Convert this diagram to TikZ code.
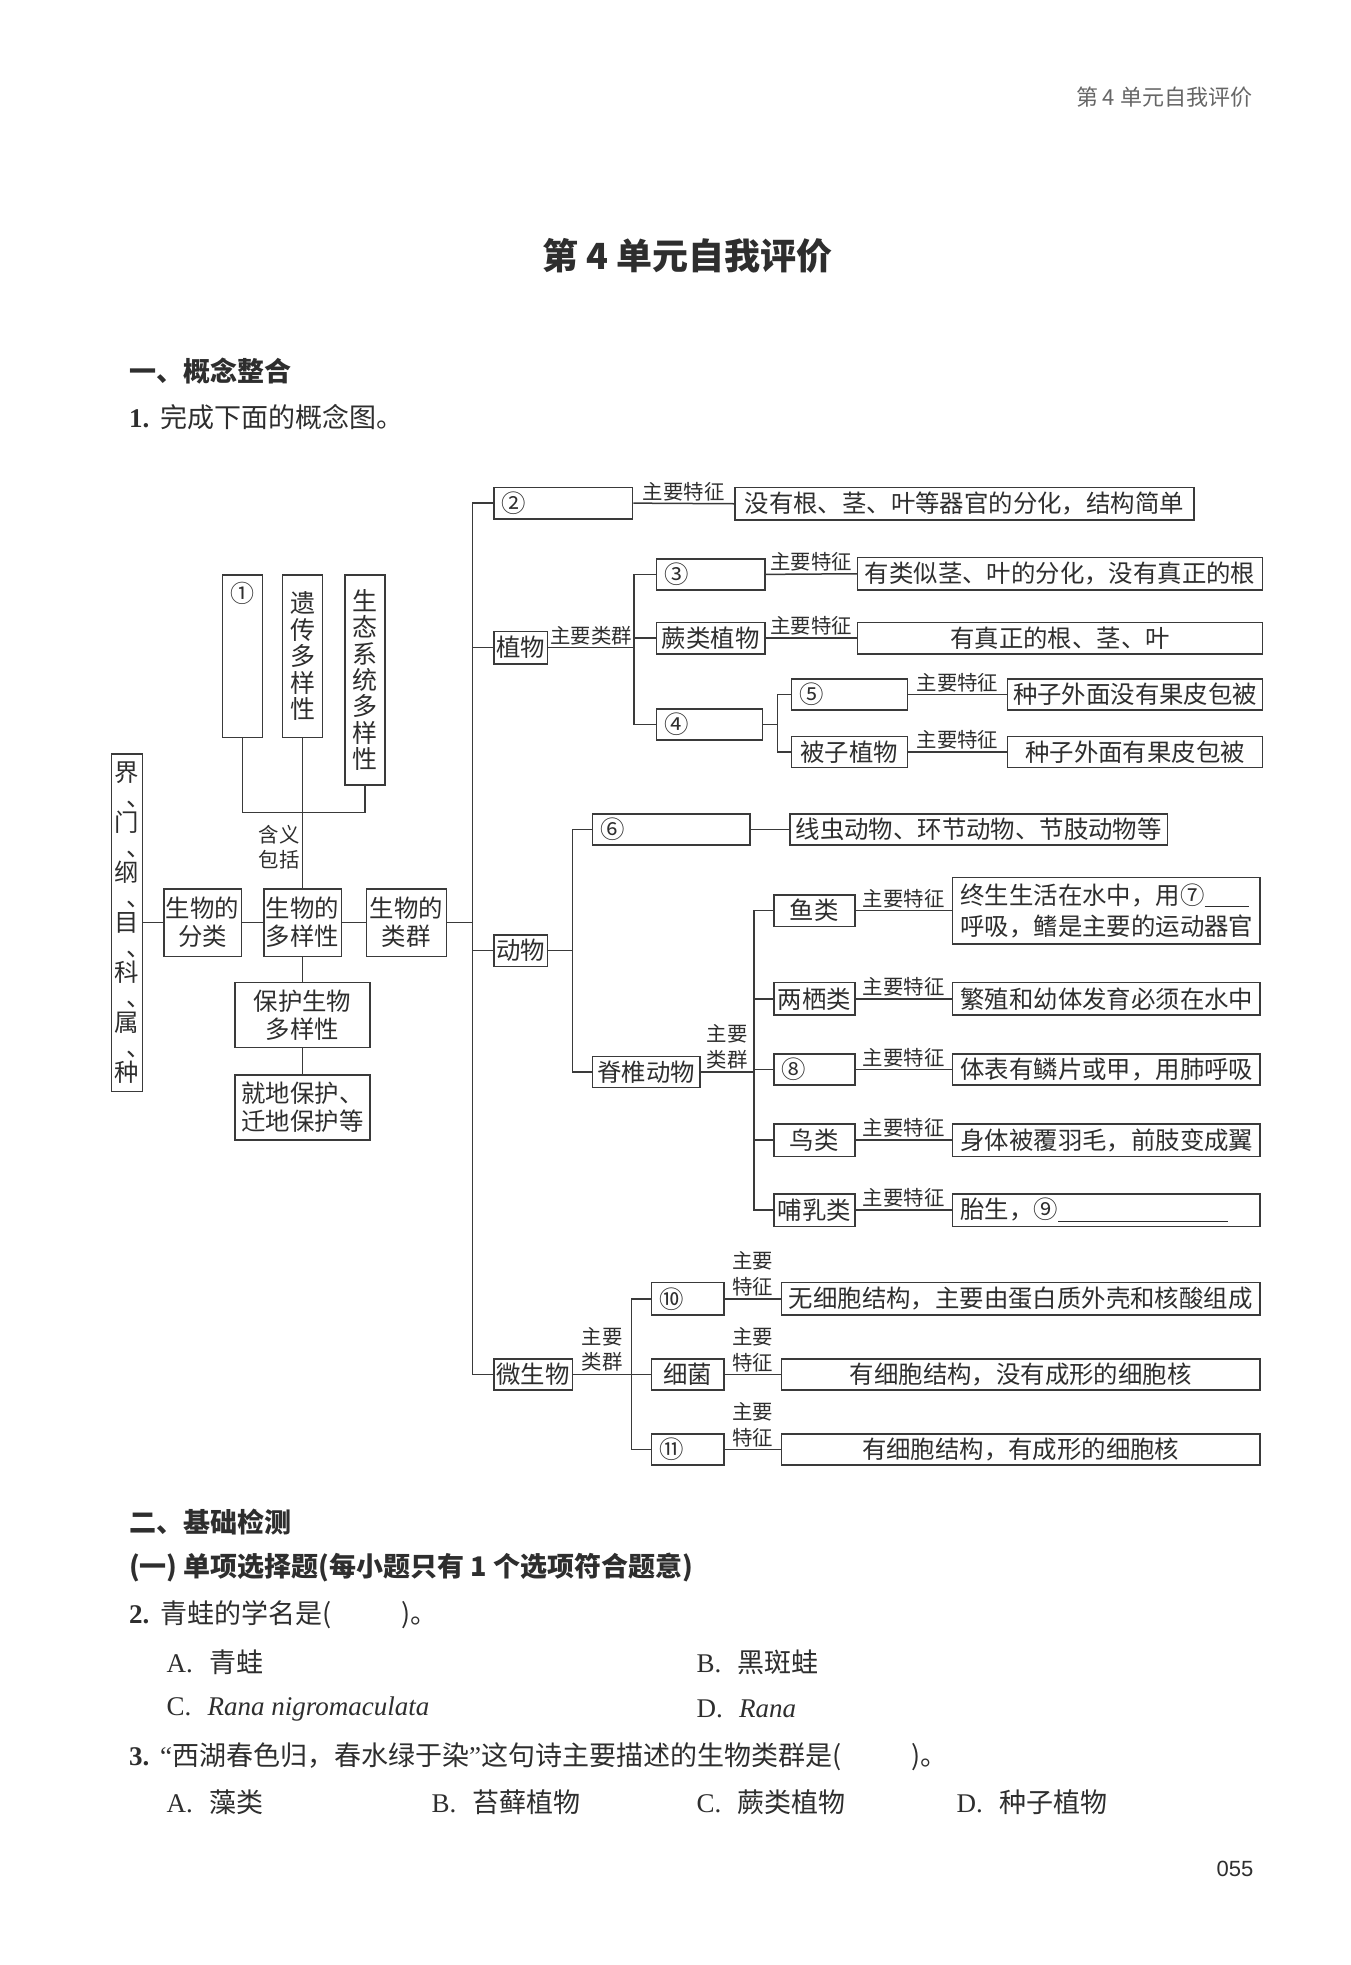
\documentclass[tikz,border=0pt]{standalone}
\usepackage{fontspec}
\setmainfont{Liberation Serif}
\newfontfamily\cjk{Noto Sans CJK SC}
\newfontfamily\lsans{Liberation Sans}
\usetikzlibrary{calc}
\definecolor{lc}{HTML}{3A3A3A}
\definecolor{tc}{HTML}{2E2E2E}
\definecolor{hc}{HTML}{666666}
\newcommand\vcm{\makebox[1em][l]{\hspace{0.5em}、}}
\newcommand\mybox[7][]{%
 \pgfmathsetmacro\mybw{(#5-#3)*0.625}%
 \pgfmathsetmacro\mybh{(#6-#4)*0.625}%
 \pgfmathsetmacro\mytw{(#5-#3)*0.625-8}%
 \node[box, minimum width=\mybw pt, minimum height=\mybh pt, #1] (#2) at ({(#3+#5)/2},{(#4+#6)/2}) {#7};}
\tikzset{
 box/.style={draw=lc, line width=0.75pt, inner xsep=1pt, inner ysep=0pt, align=center, text=tc, font=\cjk\fontsize{12.2}{14}\selectfont},
 lal/.style={text width=\mytw pt, inner xsep=4pt, align=left},
 vtx/.style={font=\cjk\fontsize{12.5}{13.2}\selectfont},
 lab/.style={font=\cjk\fontsize{10.2}{12.8}\selectfont, text=tc, inner sep=1pt, align=center},
 ln/.style={draw=lc, line width=0.75pt},
 txt/.style={anchor=west, inner sep=0pt, text=tc, font=\cjk\fontsize{13.5}{16}\selectfont},
 hd/.style={anchor=west, inner sep=0pt, text=tc, font=\cjk\bfseries\fontsize{13.5}{16}\selectfont},
}
\begin{document}
\begin{tikzpicture}[x=0.625pt, y=-0.625pt]
\useasboundingbox (0,0) rectangle (1080,1572);
\fill[white] (0,0) rectangle (1080,1572);

% header and title
\node[anchor=east, inner sep=0pt, text=hc, font=\cjk\fontsize{11}{13}\selectfont] (hdr) at (1002,78) {第 4 单元自我评价};
\node[inner sep=0pt, text=tc, font=\cjk\bfseries\fontsize{18}{20}\selectfont] (ttl) at (550,205) {第 4 单元自我评价};
\node[hd] (s1) at (103,297) {一、概念整合};
\node[txt] (q1) at (103,334) {{\rmfamily\bfseries 1.}\hspace{0.4em}完成下面的概念图。};

% ---------- left part ----------
\mybox[vtx, font=\cjk\fontsize{12.2}{12.5}\selectfont]{jie}{89}{603}{114}{873}{界\\\vcm\\门\\\vcm\\纲\\\vcm\\目\\\vcm\\科\\\vcm\\属\\\vcm\\种}
\mybox{fl}{131}{711}{193}{765}{生物的\\分类}
\mybox{dy}{211}{711}{273}{765}{生物的\\多样性}
\mybox{lq}{293}{711}{357}{765}{生物的\\类群}
\mybox{b1}{178}{460}{210}{590}{}
\node[inner sep=0pt, text=tc, font=\cjk\fontsize{12}{14}\selectfont] (c1) at ($(b1.north)+(0,15)$) {①};
\mybox[vtx]{b2}{226}{460}{258}{590}{遗\\传\\多\\样\\性}
\mybox[vtx]{b3}{276}{460}{308}{628}{生\\态\\系\\统\\多\\样\\性}
\mybox{bh}{188}{786}{296}{838}{保护生物\\多样性}
\mybox{jd}{188}{860}{296}{912}{就地保护、\\迁地保护等}

\draw[ln] (jie.east) -- (fl.west);
\draw[ln] (fl.east) -- (dy.west);
\draw[ln] (dy.east) -- (lq.west);
\draw[ln] (b2.south) -- node[lab, left, pos=0.727] {含义\\包括} (dy.north);
\coordinate (hj) at (242,650);
\draw[ln] (b1.south) |- (hj) -| (b3.south);
\draw[ln] (dy.south) -- (bh.north);
\draw[ln] (bh.south) -- (jd.north);

% ---------- trunk ----------
\coordinate (tr) at (378,738);
\mybox[lal]{n2}{395}{390}{506}{415}{②}
\mybox{f2}{588}{390}{955}{416}{没有根、茎、叶等器官的分化，结构简单}
\mybox{zw}{395}{505}{438}{531}{植物}
\mybox{dw}{395}{748}{438}{773}{动物}
\mybox{wsw}{395}{1087}{458}{1112}{微生物}
\draw[ln] (lq.east) -- (tr);
\draw[ln] (n2.west) -| (tr);
\draw[ln] (zw.west) -| (tr);
\draw[ln] (dw.west) -| (tr);
\draw[ln] (wsw.west) -| (tr);
\draw[ln] (n2.east) -- node[lab, above] {主要特征} (f2.west);

% ---------- plants ----------
\mybox[lal]{n3}{525}{447}{612}{472}{③}
\mybox{f3}{686}{446}{1010}{472}{有类似茎、叶的分化，没有真正的根}
\mybox{jue}{525}{498}{612}{523}{蕨类植物}
\mybox{fj}{686}{498}{1010}{523}{有真正的根、茎、叶}
\mybox[lal]{n4}{525}{567}{610}{592}{④}
\mybox[lal]{n5}{633}{543}{726}{568}{⑤}
\mybox{f5}{806}{543}{1010}{568}{种子外面没有果皮包被}
\mybox{bei}{633}{589}{726}{614}{被子植物}
\mybox{fb}{806}{589}{1010}{614}{种子外面有果皮包被}
\coordinate (pt) at (507,518);
\draw[ln] (zw.east) -- node[lab, above] {主要类群} (pt);
\draw[ln] (n3.west) -| (pt);
\draw[ln] (jue.west) -| (pt);
\draw[ln] (n4.west) -| (pt);
\draw[ln] (n3.east) -- node[lab, above] {主要特征} (f3.west);
\draw[ln] (jue.east) -- node[lab, above] {主要特征} (fj.west);
\coordinate (st) at (622,579.5);
\draw[ln] (n4.east) -- (st);
\draw[ln] (n5.west) -| (st);
\draw[ln] (bei.west) -| (st);
\draw[ln] (n5.east) -- node[lab, above] {主要特征} (f5.west);
\draw[ln] (bei.east) -- node[lab, above] {主要特征} (fb.west);

% ---------- animals ----------
\mybox[lal]{n6}{474}{651}{600}{676}{⑥}
\mybox{f6}{632}{651}{934}{676}{线虫动物、环节动物、节肢动物等}
\mybox{jz}{474}{845}{560}{870}{脊椎动物}
\coordinate (at) at (458,760.5);
\draw[ln] (dw.east) -- (at);
\draw[ln] (n6.west) -| (at);
\draw[ln] (jz.west) -| (at);
\draw[ln] (n6.east) -- (f6.west);
\coordinate (vt) at (603,857.5);
\draw[ln] (jz.east) -- node[lab, above] {主要\\类群} (vt);

\mybox{yu}{619}{716}{684}{741}{鱼类}
\mybox[lal, font=\cjk\fontsize{12.2}{15.6}\selectfont]{fyu}{762}{702}{1008}{755}{终生生活在水中，用⑦\underline{\hspace{22pt}}\\呼吸，鳍是主要的运动器官}
\mybox{lx}{619}{786}{684}{812}{两栖类}
\mybox[lal]{flx}{762}{786}{1008}{812}{繁殖和幼体发育必须在水中}
\mybox[lal]{n8}{619}{843}{684}{868}{⑧}
\mybox[lal]{f8}{762}{843}{1008}{868}{体表有鳞片或甲，用肺呼吸}
\mybox{nl}{619}{899}{684}{925}{鸟类}
\mybox[lal]{fnl}{762}{899}{1008}{925}{身体被覆羽毛，前肢变成翼}
\mybox{br}{619}{955}{684}{981}{哺乳类}
\mybox[lal]{fbr}{762}{955}{1008}{981}{胎生，⑨\underline{\hspace{85pt}}}
\foreach \a/\b in {yu/fyu, lx/flx, n8/f8, nl/fnl, br/fbr}{
  \draw[ln] (\a.west) -| (vt);
  \draw[ln] (\a.east) -- node[lab, above] {主要特征} (\b.west);
}

% ---------- microorganisms ----------
\mybox[lal]{n10}{521}{1026}{579}{1052}{⑩}
\mybox{f10}{625}{1026}{1008}{1052}{无细胞结构，主要由蛋白质外壳和核酸组成}
\mybox{xj}{521}{1087}{579}{1112}{细菌}
\mybox{fxj}{625}{1087}{1008}{1112}{有细胞结构，没有成形的细胞核}
\mybox[lal]{n11}{521}{1147}{579}{1172}{⑪}
\mybox{f11}{625}{1147}{1008}{1172}{有细胞结构，有成形的细胞核}
\coordinate (mt) at (505,1099.5);
\draw[ln] (wsw.east) -- node[lab, above] {主要\\类群} (mt);
\foreach \a/\b in {n10/f10, xj/fxj, n11/f11}{
  \draw[ln] (\a.west) -| (mt);
  \draw[ln] (\a.east) -- node[lab, above] {主要\\特征} (\b.west);
}

% ---------- questions ----------
\node[hd] (s2) at (103,1218) {二、基础检测};
\node[hd] (s3) at (103,1254) {(一) 单项选择题(每小题只有 1 个选项符合题意)};
\node[txt] (q2) at (103,1292) {{\rmfamily\bfseries 2.}\hspace{0.4em}青蛙的学名是(\hspace{2.6em})。};
\node[txt] (q2a) at (133,1330) {{\rmfamily A.}\hspace{0.6em}青蛙};
\node[txt] (q2b) at (557,1330) {{\rmfamily B.}\hspace{0.6em}黑斑蛙};
\node[txt] (q2c) at (133,1367) {{\rmfamily C.}\hspace{0.6em}{\rmfamily\itshape Rana nigromaculata}};
\node[txt] (q2d) at (557,1367) {{\rmfamily D.}\hspace{0.6em}{\rmfamily\itshape Rana}};
\node[txt] (q3) at (103,1405) {{\rmfamily\bfseries 3.}\hspace{0.4em}{\rmfamily “}西湖春色归，春水绿于染{\rmfamily ”}这句诗主要描述的生物类群是(\hspace{2.6em})。};
\node[txt] (q3a) at (133,1442) {{\rmfamily A.}\hspace{0.6em}藻类};
\node[txt] (q3b) at (345,1442) {{\rmfamily B.}\hspace{0.6em}苔藓植物};
\node[txt] (q3c) at (557,1442) {{\rmfamily C.}\hspace{0.6em}蕨类植物};
\node[txt] (q3d) at (765,1442) {{\rmfamily D.}\hspace{0.6em}种子植物};
\node[inner sep=0pt, text=tc, font=\lsans\fontsize{11}{13}\selectfont] (pg) at (988,1495) {055};
\end{tikzpicture}
\end{document}
